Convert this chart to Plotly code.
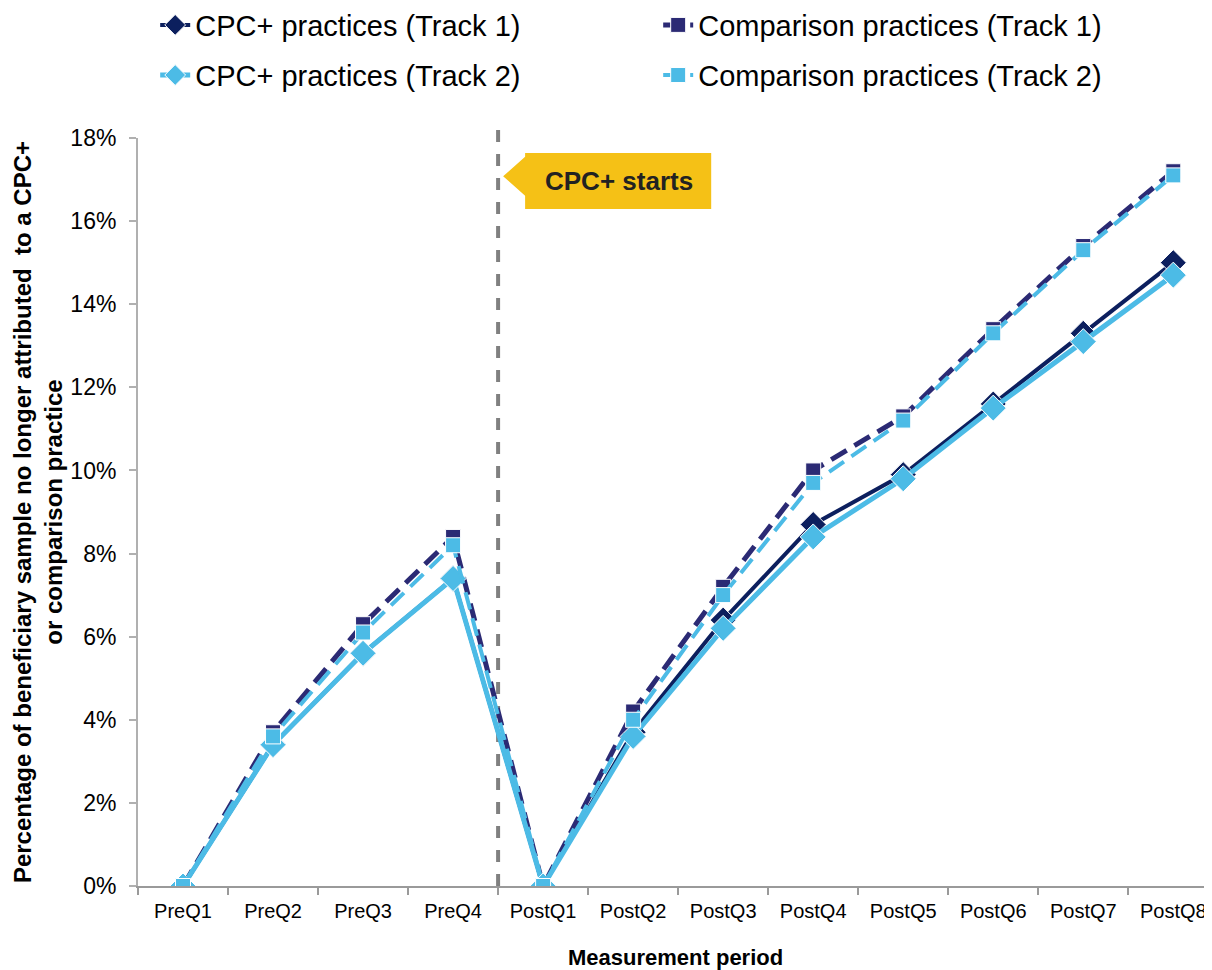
import plotly.graph_objects as go

periods = ["PreQ1", "PreQ2", "PreQ3", "PreQ4", "PostQ1", "PostQ2", "PostQ3",
           "PostQ4", "PostQ5", "PostQ6", "PostQ7", "PostQ8"]
cpc_track1 = [0.0, 3.4, 5.6, 7.4, 0.0, 3.7, 6.4, 8.7, 9.9, 11.6, 13.3, 15.0]
comp_track1 = [0.0, 3.7, 6.3, 8.4, 0.0, 4.2, 7.2, 10.0, 11.3, 13.4, 15.4, 17.2]
cpc_track2 = [0.0, 3.4, 5.6, 7.4, 0.0, 3.6, 6.2, 8.4, 9.8, 11.5, 13.1, 14.7]
comp_track2 = [0.0, 3.6, 6.1, 8.2, 0.0, 4.0, 7.0, 9.7, 11.2, 13.3, 15.3, 17.1]

y_ticks = [0, 2, 4, 6, 8, 10, 12, 14, 16, 18]
y_tick_labels = [f"{v}%" for v in y_ticks]

DARK = "#0c1f5e"
DARK2 = "#2b2a74"
LIGHT = "#4cbbe6"
FONT = "Liberation Sans, Arial, sans-serif"

fig = go.Figure()

def add(name, y, color, dash, symbol, msize, lw, rank, legend):
    fig.add_trace(go.Scatter(
        x=periods, y=y, name=name, mode="lines+markers",
        line=dict(color=color, width=lw, dash=dash),
        marker=dict(symbol=symbol, size=msize, color=color,
                    line=dict(color="white", width=1)),
        legendrank=rank, legend=legend,
    ))

add("CPC+ practices (Track 1)", cpc_track1, DARK, "solid", "diamond", 20, 4, 1, "legend")
add("Comparison practices (Track 1)", comp_track1, DARK2, "18px,9px", "square", 15, 5, 2, "legend")
add("CPC+ practices (Track 2)", cpc_track2, LIGHT, "solid", "diamond", 20, 5, 3, "legend2")
add("Comparison practices (Track 2)", comp_track2, LIGHT, "18px,9px", "square", 15, 4, 4, "legend2")

# vertical dashed line at program start
fig.add_shape(type="line", xref="x", yref="paper", x0=3.5, x1=3.5, y0=0, y1=1.015,
              line=dict(color="#808080", width=4, dash="dash"), layer="below")

# callout box with pointer
fig.add_shape(type="path", xref="x", yref="y",
              path="M 3.556 17.08 L 3.8 17.55 L 3.8 17.64 L 5.867 17.64 L 5.867 16.29 L 3.8 16.29 L 3.8 16.61 Z",
              fillcolor="#f5c116", line=dict(width=0))
fig.add_annotation(x=4.844, y=16.96, xref="x", yref="y", text="<b>CPC+ starts</b>",
                   showarrow=False, font=dict(family=FONT, size=26, color="#222222"))

# y-axis title
fig.add_annotation(x=-0.093, y=0.5, xref="paper", yref="paper", textangle=-90,
                   xanchor="center", yanchor="middle",
                   text="<b>Percentage of beneficiary sample no longer attributed  to a CPC+<br>or comparison practice</b>",
                   showarrow=False, font=dict(family=FONT, size=24, color="#000000"))

# x-axis title
fig.add_annotation(x=0.5, y=-0.095, xref="paper", yref="paper", xanchor="center", yanchor="middle",
                   text="<b>Measurement period</b>", showarrow=False,
                   font=dict(family=FONT, size=22, color="#000000"))

leg_common = dict(orientation="h", xanchor="left", yanchor="middle",
                  entrywidth=458, entrywidthmode="pixels",
                  font=dict(family=FONT, size=29, color="#000000"),
                  bgcolor="rgba(0,0,0,0)")

fig.update_layout(
    width=1204, height=962,
    margin=dict(l=130, r=0, t=130, b=84, autoexpand=False),
    plot_bgcolor="white", paper_bgcolor="white",
    font=dict(family=FONT, color="#000000"),
    showlegend=True,
    legend=dict(x=0.016, y=1.151, **leg_common),
    legend2=dict(x=0.016, y=1.084, **leg_common),
    xaxis=dict(type="category", range=[-0.5, 11.43], showgrid=False,
               showline=True, linecolor="#9a9a9a", linewidth=2,
               ticks="outside", tickson="boundaries", ticklen=7, tickcolor="#9a9a9a",
               tickwidth=2, tickfont=dict(family=FONT, size=20), ticklabelstandoff=6),
    yaxis=dict(range=[0, 18], tickvals=y_ticks, ticktext=y_tick_labels, showgrid=False,
               zeroline=False, showline=True, linecolor="#b0b0b0", linewidth=2,
               ticks="outside", ticklen=7, tickcolor="#b0b0b0", tickwidth=2,
               tickfont=dict(family=FONT, size=23), ticklabelstandoff=8),
)

fig.write_html("out.html")
